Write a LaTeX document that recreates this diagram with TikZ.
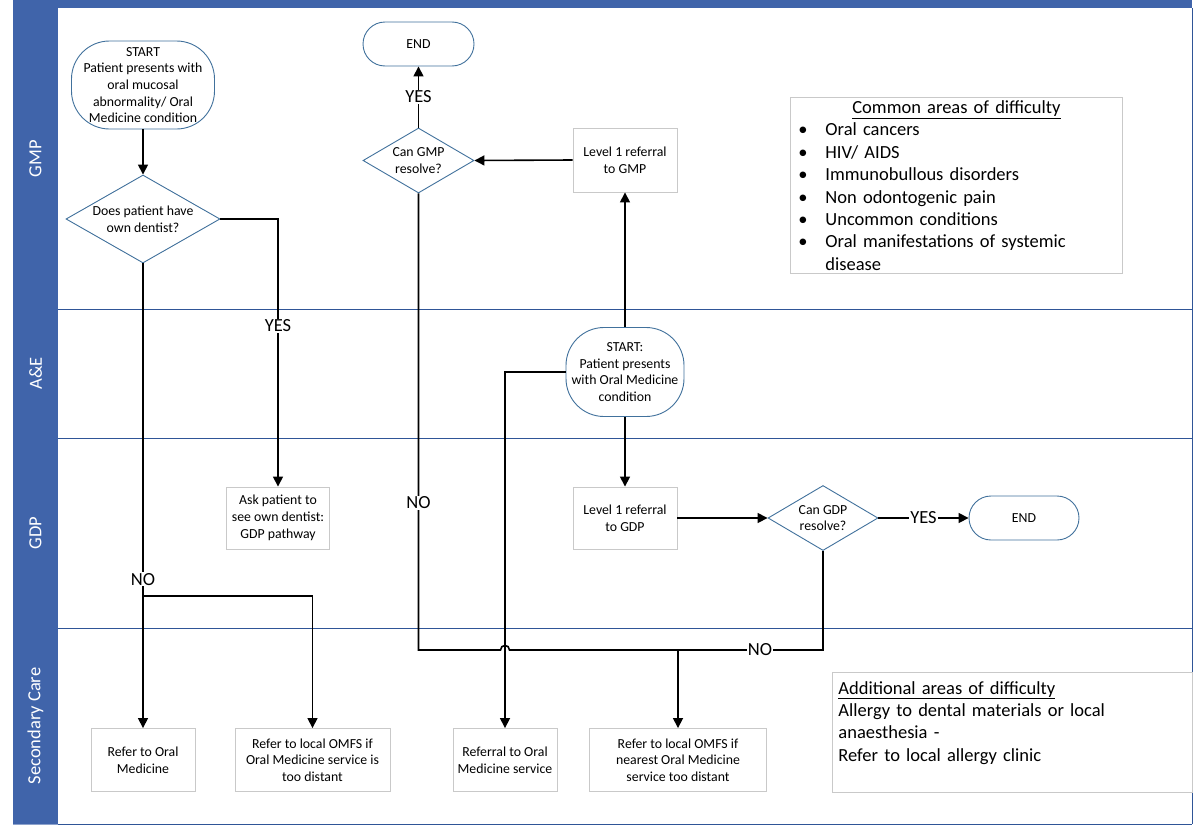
\documentclass[tikz,border=0pt]{standalone}
\usepackage{fontspec}
\setmainfont{Carlito}
\usetikzlibrary{arrows.meta, positioning, shapes.geometric, calc}
\definecolor{laneBlue}{HTML}{4064AA}
\definecolor{lineBlue}{HTML}{2F5597}
\definecolor{shapeBlue}{HTML}{41719C}
\definecolor{boxGrey}{HTML}{C9C9C9}
\newcommand{\fcsmall}{\fontsize{13.8}{16.7}\selectfont}
\newcommand{\fclarge}{\fontsize{18.5}{22.4}\selectfont}
\tikzset{
  terminal/.style={draw=shapeBlue, line width=0.9pt, fill=white, rounded corners=22pt,
    minimum width=111pt, minimum height=44pt, font=\fcsmall, align=center, inner sep=2pt},
  startbox/.style={terminal, rounded corners=38pt},
  decision/.style={diamond, draw=shapeBlue, line width=0.9pt, fill=white, inner sep=0pt,
    font=\fcsmall, align=center},
  process/.style={draw=boxGrey, line width=0.9pt, fill=white, minimum width=104pt,
    minimum height=63pt, font=\fcsmall, align=center, inner sep=2pt},
  notebox/.style={draw=boxGrey, line width=0.9pt, fill=white, font=\fclarge, align=left,
    anchor=north west, inner xsep=6pt, inner ysep=1pt},
  flow/.style={line width=1.6pt, -{Triangle[length=10pt,width=10pt]}},
  plainflow/.style={line width=1.6pt},
  answer/.style={fill=white, font=\fclarge, inner sep=1pt},
  lanename/.style={rotate=90, text=white, font=\fclarge}
}

\begin{document}
\begin{tikzpicture}[x=1pt, y=-1pt]
  \useasboundingbox (0,0) rectangle (1201,835);
  \fill[laneBlue] (13,0) rectangle (1192,8);
  \foreach \ya/\yb/\lname [count=\k] in {8/309/GMP, 309/438/A\&E, 438/628/GDP,
                                         628/824/Secondary Care} {
    \fill[laneBlue] (13,\ya) rectangle (58,\yb);
    \draw[laneBlue!60!white, line width=0.8pt] (13,\yb) -- (58,\yb);
    \draw[lineBlue, line width=1pt] (58,\yb) -- (1192,\yb);
    \node[lanename] (lane\k) at (35.5,{(\ya+\yb)/2}) {\lname};
  }
  \draw[lineBlue, line width=1pt] (1192,8) -- (1192,824);

  \node[startbox, minimum width=143pt, minimum height=88pt] (gmpstart) at (143,85)
    {START\\Patient presents with\\oral mucosal\\abnormality/ Oral\\Medicine condition};
  \node[decision, aspect=1.75, minimum width=154pt, minimum height=88pt] (dentist) at (143,219)
    {Does patient have\\own dentist?};
  \node[process, minimum width=103pt, minimum height=62pt] (askgdp) at (278,518)
    {Ask patient to\\see own dentist:\\GDP pathway};
  \node[process] (refom) at (143,760) {Refer to Oral\\Medicine};
  \node[process, minimum width=155pt] (omfsfar) at (312.5,760)
    {Refer to local OMFS if\\Oral Medicine service is\\too distant};

  \node[terminal] (gmpend) at (418.5,44) {END};
  \node[decision, aspect=1.7, minimum width=111pt, minimum height=65pt] (gmpres) at (418.5,160.5)
    {Can GMP\\resolve?};
  \node[process, minimum height=64pt] (lvlgmp) at (625,160) {Level 1 referral\\to GMP};
  \node[startbox, minimum width=118pt, minimum height=89pt] (aestart) at (625,372)
    {START:\\Patient presents\\with Oral Medicine\\condition};
  \node[process, minimum height=62pt] (lvlgdp) at (625,518) {Level 1 referral\\to GDP};
  \node[decision, aspect=1.7, minimum width=110pt, minimum height=65pt] (gdpres) at (823,518)
    {Can GDP\\resolve?};
  \node[terminal, minimum width=110pt] (gdpend) at (1024,518) {END};
  \node[process] (refsvc) at (505,760) {Referral to Oral\\Medicine service};
  \node[process, minimum width=177pt] (omfsnear) at (678,760)
    {Refer to local OMFS if\\nearest Oral Medicine\\service too distant};

  \node[notebox, minimum width=332pt, minimum height=176pt, text width=320pt] (common) at (790,97)
    {\makebox[320pt]{\underline{Common areas of difficulty}}\\
     \makebox[29pt][l]{\hspace{2pt}\textbullet}Oral cancers\\
     \makebox[29pt][l]{\hspace{2pt}\textbullet}HIV/ AIDS\\
     \makebox[29pt][l]{\hspace{2pt}\textbullet}Immunobullous disorders\\
     \makebox[29pt][l]{\hspace{2pt}\textbullet}Non odontogenic pain\\
     \makebox[29pt][l]{\hspace{2pt}\textbullet}Uncommon conditions\\
     \makebox[29pt][l]{\hspace{2pt}\textbullet}Oral manifestations of systemic\\
     \hspace*{29pt}disease};
  \node[notebox, minimum width=360pt, minimum height=120pt, text width=348pt] (extra) at (832,672)
    {\underline{Additional areas of difficulty}\\
     Allergy to dental materials or local\\
     anaesthesia -\\
     Refer to local allergy clinic\\
     \mbox{}};

  \coordinate (split1) at (dentist.south |- 0,596);
  \coordinate (jA) at (gmpres.south |- 0,650);
  \coordinate (jB) at (omfsnear.north |- jA);
  \coordinate (hop) at (refsvc.north |- jA);

  \draw[flow] (gmpstart) -- (dentist);
  \draw[flow] (dentist.east) -| node[answer, pos=0.7] {YES} (askgdp.north);
  \draw[flow] (dentist.south) -- node[answer, pos=0.68] {NO} (refom.north);
  \draw[flow] (split1) -| (omfsfar.north);
  \draw[flow] (gmpres.north) -- node[answer] {YES} (gmpend.south);
  \draw[flow] (lvlgmp.west) -- (gmpres.east);
  \draw[flow] (aestart.north) -- (lvlgmp.south);
  \draw[flow] (aestart.south) -- (lvlgdp.north);
  \draw[flow] (aestart.west) -| (refsvc.north);
  \draw[flow] (lvlgdp.east) -- (gdpres.west);
  \draw[flow] (gdpres.east) -- node[answer] {YES} (gdpend.west);
  \draw[plainflow] (gmpres.south) -- node[answer, pos=0.678] {NO} (jA)
    -- ($(hop)+(-4.5,0)$) .. controls ($(hop)+(-4.5,-6)$) and ($(hop)+(4.5,-6)$) .. ($(hop)+(4.5,0)$)
    -- (jB);
  \draw[plainflow] (gdpres.south) |- node[answer, pos=0.717] {NO} (jB);
  \draw[flow] (jB) -- (omfsnear.north);
\end{tikzpicture}
\end{document}
